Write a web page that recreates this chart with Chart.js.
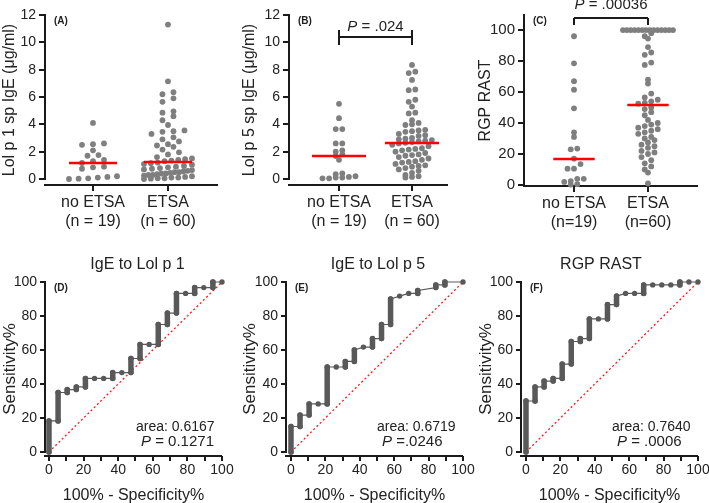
<!DOCTYPE html>
<html>
<head>
<meta charset="utf-8">
<script src="https://cdn.jsdelivr.net/npm/chart.js@4.4.1/dist/chart.umd.min.js"></script>
<style>
  html, body { margin: 0; padding: 0; background: #fff; overflow: hidden; }
  #wrap { position: relative; width: 709px; height: 503px; overflow: hidden; background: #fff; }
  canvas { position: absolute; }
</style>
</head>
<body>
<div id="wrap">
  <canvas id="pA"></canvas>
  <canvas id="pB"></canvas>
  <canvas id="pC"></canvas>
  <canvas id="pD"></canvas>
  <canvas id="pE"></canvas>
  <canvas id="pF"></canvas>
</div>
<script>
// ---- data ----
const groupLabels = [["no ETSA", "(n = 19)"], ["ETSA", "(n = 60)"]];
const groupLabelsC = [["no ETSA", "(n=19)"], ["ETSA", "(n=60)"]];

const ugTicks = [0, 2, 4, 6, 8, 10, 12];
const rastTicks = [0, 20, 40, 60, 80, 100];
const rocTicks = [0, 10, 20, 30, 40, 50, 60, 70, 80, 90, 100];

// (A) Lol p 1 sp IgE, ug/ml
const lolp1NoEtsa = [4.1, 2.6, 2.55, 2.5, 2.1, 1.75, 1.7, 1.4, 1.3, 1.17, 0.9, 0.85, 0.75, 0.2, 0.15, 0.1, 0.05, 0.02, 0.0];
const lolp1Etsa = [11.3, 7.15, 6.35, 6.2, 5.9, 5.65, 4.95, 4.85, 4.6, 4.3,
  3.95, 3.55, 3.5, 3.45, 3.3, 3.05, 2.9, 2.75, 2.55, 2.45,
  2.35, 2.15, 1.95, 1.8, 1.6, 1.5, 1.45, 1.4, 1.35, 1.3,
  1.2, 1.15, 1.1, 1.05, 0.95, 0.9, 0.85, 0.8, 0.75, 0.7,
  0.65, 0.6, 0.55, 0.5, 0.5, 0.45, 0.4, 0.4, 0.35, 0.3,
  0.3, 0.25, 0.2, 0.15, 0.1, 0.1, 0.05, 0.05, 0.02, 0.0];
const lolp1Medians = [1.17, 1.25];

// (B) Lol p 5 sp IgE, ug/ml
const lolp5NoEtsa = [5.5, 4.45, 3.65, 3.65, 2.6, 2.6, 2.1, 2.0, 1.8, 1.68, 1.4, 0.4, 0.35, 0.2, 0.15, 0.1, 0.1, 0.05, 0.05];
const lolp5Etsa = [8.35, 7.85, 7.75, 7.25, 6.55, 6.5, 5.8, 5.65, 5.3, 4.85,
  4.8, 4.3, 4.1, 4.0, 3.95, 3.6, 3.55, 3.5, 3.45, 3.3,
  3.2, 3.15, 3.0, 2.95, 2.9, 2.85, 2.8, 2.75, 2.7, 2.65,
  2.6, 2.5, 2.4, 2.25, 2.2, 2.15, 2.1, 2.0, 1.9, 1.8,
  1.75, 1.7, 1.6, 1.5, 1.4, 1.3, 1.25, 1.2, 1.1, 1.0,
  0.95, 0.9, 0.8, 0.7, 0.6, 0.45, 0.3, 0.2, 0.15, 0.1];
const lolp5Medians = [1.68, 2.63];

// (C) RGP RAST
const rgpNoEtsa = [96, 78.5, 67, 61.5, 49.5, 34, 31, 23.5, 23, 17, 13.5, 10.5, 10.5, 4, 4, 2.5, 2, 0.5, 0.3];
const rgpEtsa = [100, 100, 100, 100, 100, 100, 100, 100, 100, 100, 100, 100, 100, 100,
  98, 96, 94.5, 89, 85.5, 84, 79, 77.5, 68, 65.5, 59, 56.5, 55, 54, 53, 52.5,
  50, 49, 47, 45, 42, 40, 39, 38, 37, 36, 35, 34, 33, 31, 30,
  29, 27.5, 26, 25, 24, 22, 21, 20, 18, 16, 14, 12, 10, 8, 1];
const rgpMedians = [16.8, 51.6];

// ROC curves: 100% - specificity (x) and sensitivity (y), vertices
const rocLolp1X = [0, 0, 5.26, 5.26, 10.53, 10.53, 15.79, 15.79, 21.05, 21.05, 26.32, 31.58, 36.84, 36.84, 42.11, 47.37, 47.37, 52.63, 52.63, 57.89, 63.16, 63.16, 68.42, 68.42, 73.68, 73.68, 78.95, 84.21, 84.21, 89.47, 94.74, 94.74, 100];
const rocLolp1Y = [0, 18.3, 18.3, 35, 35, 36.7, 36.7, 38.3, 38.3, 43.3, 43.3, 43.3, 43.3, 46.7, 46.7, 46.7, 55, 55, 63.3, 63.3, 63.3, 75, 75, 81.7, 81.7, 93.3, 93.3, 93.3, 96.7, 96.7, 96.7, 100, 100];
const rocLolp5X = [0, 0, 5.26, 5.26, 10.53, 10.53, 15.79, 21.05, 21.05, 26.32, 31.58, 31.58, 36.84, 36.84, 42.11, 47.37, 47.37, 52.63, 52.63, 57.89, 57.89, 63.16, 68.42, 73.68, 73.68, 84.21, 84.21, 89.47, 89.47, 100];
const rocLolp5Y = [0, 15, 15, 21.7, 21.7, 28.3, 28.3, 28.3, 50, 50, 50, 53.3, 53.3, 60, 61.7, 61.7, 66.7, 66.7, 75, 75, 90, 91.7, 93.3, 93.3, 95, 96.7, 98.3, 98.3, 100, 100];
const rocRgpX = [0, 0, 5.26, 5.26, 10.53, 10.53, 15.79, 15.79, 21.05, 21.05, 26.32, 26.32, 31.58, 31.58, 36.84, 36.84, 42.11, 47.37, 47.37, 52.63, 52.63, 57.89, 63.16, 68.42, 68.42, 73.68, 78.95, 84.21, 89.47, 89.47, 94.74, 100];
const rocRgpY = [0, 30, 30, 38.3, 38.3, 41.7, 41.7, 43.3, 43.3, 51.7, 51.7, 65, 65, 66.7, 66.7, 78.3, 78.3, 78.3, 86.7, 86.7, 91.7, 93.3, 93.3, 93.3, 98.3, 98.3, 98.3, 98.3, 98.3, 100, 100, 100];
const chanceLine = [0, 100];

// ---- drawing ----
const FONT = "'Liberation Sans', Arial, sans-serif";
Chart.defaults.font.family = FONT;
Chart.defaults.color = '#222';
const AXIS = '#1a1a1a';

function place(canvas, box) {
  canvas.width = box[2];
  canvas.height = box[3];
  canvas.style.left = box[0] + 'px';
  canvas.style.top = box[1] + 'px';
}

// GraphPad style scatter: values in the same row get spread sideways
function swarm(values, center, pxX, pxY, gap, half) {
  const binH = 6 / pxY;
  const rows = new Map();
  values.slice().sort((a, b) => a - b).forEach(v => {
    const k = Math.round(v / binH);
    if (!rows.has(k)) rows.set(k, []);
    rows.get(k).push(v);
  });
  const pts = [];
  rows.forEach(vals => {
    const n = vals.length;
    const step = n > 1 ? Math.min(gap, 2 * half / (n - 1)) : 0;
    vals.forEach((v, i) => pts.push({ x: center + (i - (n - 1) / 2) * step / pxX, y: v }));
  });
  return pts;
}

function drawP(ctx, rest, x, y, size, align) {
  ctx.font = 'italic ' + size + 'px ' + FONT;
  const wp = ctx.measureText('P').width;
  ctx.font = size + 'px ' + FONT;
  const wr = ctx.measureText(rest).width;
  const x0 = align === 'center' ? x - (wp + wr) / 2 : x;
  ctx.textAlign = 'left';
  ctx.textBaseline = 'middle';
  ctx.font = 'italic ' + size + 'px ' + FONT;
  ctx.fillText('P', x0, y);
  ctx.font = size + 'px ' + FONT;
  ctx.fillText(rest, x0 + wp, y);
}

const decor = {
  id: 'decor',
  beforeDatasetsDraw(chart) {
    const { ctx, chartArea: a, scales: { y } } = chart;
    ctx.save();
    ctx.strokeStyle = AXIS;
    ctx.lineWidth = 2;
    ctx.beginPath();
    ctx.moveTo(a.left, y.getPixelForValue(0) + 1);
    ctx.lineTo(a.left, a.top - 1);
    ctx.moveTo(a.left - 1, a.bottom);
    ctx.lineTo(a.right, a.bottom);
    ctx.stroke();
    ctx.restore();
  },
  afterDatasetsDraw(chart, args, o) {
    const { ctx, chartArea: a, scales: { x, y } } = chart;
    ctx.save();
    ctx.fillStyle = '#222';
    ctx.font = 'bold 10px ' + FONT;
    ctx.textAlign = 'left';
    ctx.textBaseline = 'middle';
    ctx.fillText(o.letter, a.left + 9, a.top + 6);
    if (o.bracket) {
      const b = o.bracket;
      const x1 = x.getPixelForValue(1), x2 = x.getPixelForValue(2);
      const yb = y.getPixelForValue(b.y);
      ctx.strokeStyle = AXIS;
      ctx.lineWidth = 2;
      ctx.beginPath();
      ctx.moveTo(x1, yb - b.up); ctx.lineTo(x1, yb + b.down);
      ctx.moveTo(x2, yb - b.up); ctx.lineTo(x2, yb + b.down);
      ctx.moveTo(x1, yb); ctx.lineTo(x2, yb);
      ctx.stroke();
      drawP(ctx, o.pText, (x1 + x2) / 2, yb - b.textUp, 15, 'center');
    }
    if (o.title) {
      ctx.font = '16px ' + FONT;
      ctx.textAlign = 'center';
      ctx.fillText(o.title, x.getPixelForValue(50) + o.titleDx, a.top - 17);
      ctx.font = '14px ' + FONT;
      ctx.textAlign = 'left';
      ctx.fillText(o.area, a.left + 91, a.bottom - 29);
      drawP(ctx, o.pText, a.left + 96, a.bottom - 14, 15, 'left');
    }
    ctx.restore();
  }
};

function makeScatter(p) {
  const [bl, bt, bw, bh] = p.box;
  const [al, at, ar, ab] = p.area;
  const pxX = (ar - al) / (p.x[1] - p.x[0]);
  const pxY = (ab - at) / (p.y[1] - p.y[0]);
  const datasets = [];
  p.medians.forEach((m, i) => datasets.push({
    type: 'line',
    data: [{ x: i + 1 - p.medHalf, y: m }, { x: i + 1 + p.medHalf, y: m }],
    borderColor: '#ff0000', borderWidth: 2.5, pointRadius: 0, order: 0
  }));
  p.groups.forEach((vals, i) => datasets.push({
    type: 'scatter',
    data: swarm(vals, i + 1, pxX, pxY, p.gap, p.half),
    pointRadius: 2.9, pointBackgroundColor: '#7f7f7f', pointBorderWidth: 0,
    order: 1, clip: false
  }));
  const canvas = document.getElementById(p.id);
  place(canvas, p.box);
  new Chart(canvas, {
    type: 'scatter',
    data: { datasets },
    options: {
      responsive: false,
      animation: false,
      layout: { padding: { left: 0, top: at - bt, right: bl + bw - ar, bottom: 0 } },
      plugins: {
        legend: { display: false },
        tooltip: { enabled: false },
        decor: { letter: p.letter, bracket: p.bracket, pText: p.pText }
      },
      scales: {
        x: {
          type: 'linear', min: p.x[0], max: p.x[1],
          afterBuildTicks: s => { s.ticks = [1, 2].map(v => ({ value: v })); },
          afterFit: s => { s.height = bt + bh - ab; },
          grid: { drawOnChartArea: false, tickLength: 6, lineWidth: 2, color: AXIS },
          border: { display: false },
          ticks: {
            autoSkip: false, maxRotation: 0, padding: 2, color: '#222',
            font: { size: 16 },
            callback: v => p.labels[Math.round(v) - 1]
          }
        },
        y: {
          type: 'linear', min: p.y[0], max: p.y[1],
          afterBuildTicks: s => { s.ticks = p.yTicks.map(v => ({ value: v })); },
          afterFit: s => { s.width = al - bl; },
          grid: { drawOnChartArea: false, tickLength: 6, lineWidth: 2, color: AXIS },
          border: { display: false },
          ticks: { padding: 3, color: '#222', font: { size: p.tickSize } },
          title: { display: true, text: p.yTitle, color: '#222', font: { size: 16 }, padding: { top: 0, bottom: 0 } }
        }
      }
    },
    plugins: [decor]
  });
}

function makeRoc(p) {
  const [bl, bt, bw, bh] = p.box;
  const [al, at, ar, ab] = p.area;
  const canvas = document.getElementById(p.id);
  place(canvas, p.box);
  const gray = '#595959';
  new Chart(canvas, {
    type: 'scatter',
    data: {
      datasets: [
        {
          type: 'line',
          data: p.xs.map((v, i) => ({ x: v, y: p.ys[i] })),
          borderColor: gray, borderWidth: 1.2, borderCapStyle: 'round',
          segment: { borderWidth: c => c.p0.parsed.x === c.p1.parsed.x ? 5.5 : 1.2 },
          pointRadius: 2.7, pointBackgroundColor: gray, pointBorderWidth: 0,
          clip: false, order: 0
        },
        {
          type: 'line',
          data: chanceLine.map(v => ({ x: v, y: v })),
          borderColor: '#ff1a1a', borderWidth: 1.3, borderDash: [2, 2.5],
          pointRadius: 0, order: 1
        }
      ]
    },
    options: {
      responsive: false,
      animation: false,
      layout: { padding: { left: 0, top: at - bt, right: bl + bw - ar, bottom: 0 } },
      plugins: {
        legend: { display: false },
        tooltip: { enabled: false },
        decor: { letter: p.letter, title: p.title, titleDx: p.titleDx, area: p.area_text, pText: p.pText }
      },
      scales: {
        x: {
          type: 'linear', min: p.x[0], max: 100,
          afterBuildTicks: s => { s.ticks = rocTicks.map(v => ({ value: v })); },
          afterFit: s => { s.height = bt + bh - ab; },
          grid: { drawOnChartArea: false, tickLength: 5, lineWidth: 2, color: AXIS },
          border: { display: false },
          ticks: {
            autoSkip: false, maxRotation: 0, padding: 1, color: '#222', font: { size: 14 },
            callback: v => (v % 20 === 0 ? String(v) : '')
          },
          title: { display: true, text: '100% - Specificity%', color: '#222', font: { size: 16 }, padding: { top: 0, bottom: 0 } }
        },
        y: {
          type: 'linear', min: p.y[0], max: 100,
          afterBuildTicks: s => { s.ticks = rocTicks.map(v => ({ value: v })); },
          afterFit: s => { s.width = al - bl; },
          grid: { drawOnChartArea: false, tickLength: 5, lineWidth: 2, color: AXIS },
          border: { display: false },
          ticks: {
            padding: 3, color: '#222', font: { size: 14 },
            callback: v => (v % 20 === 0 ? String(v) : '')
          },
          title: { display: true, text: 'Sensitivity%', color: '#222', font: { size: 17 }, padding: { top: 0, bottom: 0 } }
        }
      }
    },
    plugins: [decor]
  });
}

makeScatter({
  id: 'pA', box: [0, 0, 240, 250], area: [45, 15, 218, 185],
  x: [0.36, 2.667], y: [-0.44, 12], yTicks: ugTicks, tickSize: 14,
  yTitle: 'Lol p 1 sp IgE (\u03bcg/ml)', letter: '(A)', labels: groupLabels,
  groups: [lolp1NoEtsa, lolp1Etsa], medians: lolp1Medians, medHalf: 0.32, gap: 11, half: 24
});
makeScatter({
  id: 'pB', box: [240, 0, 236, 250], area: [289, 15, 448, 185],
  x: [0.315, 2.493], y: [-0.44, 12], yTicks: ugTicks, tickSize: 14,
  yTitle: 'Lol p 5 sp IgE (\u03bcg/ml)', letter: '(B)', labels: groupLabels,
  groups: [lolp5NoEtsa, lolp5Etsa], medians: lolp5Medians, medHalf: 0.37, gap: 6.6, half: 27,
  bracket: { y: 10.39, up: 7, down: 8, textUp: 10 }, pText: ' = .024'
});
makeScatter({
  id: 'pC', box: [476, 0, 240, 250], area: [524, 15, 698, 186],
  x: [0.324, 2.676], y: [-0.65, 109.7], yTicks: rastTicks, tickSize: 15,
  yTitle: 'RGP RAST', letter: '(C)', labels: groupLabelsC,
  groups: [rgpNoEtsa, rgpEtsa], medians: rgpMedians, medHalf: 0.28, gap: 6.5, half: 25,
  bracket: { y: 107.7, up: 0, down: 7, textUp: 13 }, pText: ' = .00036'
});
makeRoc({
  id: 'pD', box: [0, 250, 240, 255], area: [45, 282, 222, 456],
  x: [-2.31], y: [-2.35], xs: rocLolp1X, ys: rocLolp1Y, letter: '(D)',
  title: 'IgE to Lol p 1', titleDx: 2, area_text: 'area: 0.6167', pText: ' = 0.1271'
});
makeRoc({
  id: 'pE', box: [240, 250, 236, 255], area: [286, 282, 463, 456],
  x: [-2.9], y: [-2.35], xs: rocLolp5X, ys: rocLolp5Y, letter: '(E)',
  title: 'IgE to Lol p 5', titleDx: 1, area_text: 'area: 0.6719', pText: ' =.0246'
});
makeRoc({
  id: 'pF', box: [476, 250, 245, 255], area: [521, 282, 698, 456],
  x: [-2.9], y: [-2.35], xs: rocRgpX, ys: rocRgpY, letter: '(F)',
  title: 'RGP RAST', titleDx: -11, area_text: 'area: 0.7640', pText: ' = .0006'
});
</script>
</body>
</html>
